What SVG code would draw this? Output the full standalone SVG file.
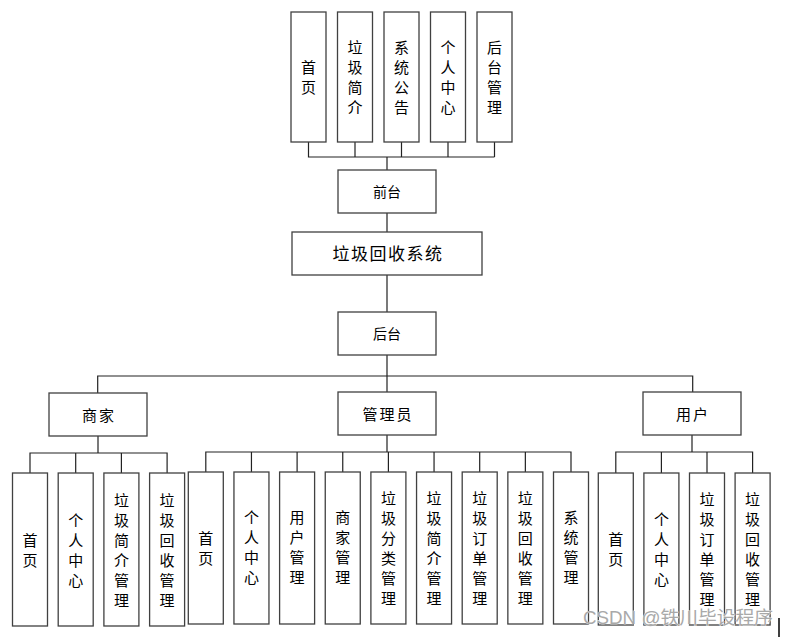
<svg xmlns="http://www.w3.org/2000/svg" width="789" height="637" viewBox="0 0 789 637">
<style>
.box{fill:#fff;stroke:#404040;stroke-width:1.3}
.ln{fill:none;stroke:#222;stroke-width:1.2}
text{font-family:"Liberation Sans","Noto Sans CJK SC",sans-serif;fill:#000;text-anchor:middle;dominant-baseline:central}
.v{font-size:15px}
.h{font-size:15px;letter-spacing:2px}
.s{font-size:14px}
.t{font-size:17px;letter-spacing:1.5px}
.wm{font-size:18px;fill:#a9a9a9;stroke:#fff;stroke-width:0.6;paint-order:stroke;text-anchor:start;dominant-baseline:auto}
</style>
<rect width="789" height="637" fill="#fff"/>
<g id="connectors">
<path class="ln" d="M308.5,142V157H494.5M355,142V157M401.5,142V157M448,142V157M494.5,142V157M387,157V170"/>
<path class="ln" d="M387,213V232M387,275V312M387,355V376"/>
<path class="ln" d="M97.7,393V376H692.7V392M387,376V392"/>
<path class="ln" d="M98,436V453M30,473V453H167.1V473M75.7,453V473M121.4,453V473"/>
<path class="ln" d="M387,435V452M205.8,472V452H571V472M251.45,452V472M297.1,452V472M342.75,452V472M388.4,452V472M434.05,452V472M479.7,452V472M525.35,452V472"/>
<path class="ln" d="M692,435V452M615.8,473V452H752.6V473M661.4,452V473M707,452V473"/>
</g>
<g id="top-home"><rect class="box" x="291" y="12" width="35" height="130"/><text class="v"><tspan x="308.5" y="67">首</tspan><tspan x="308.5" dy="20">页</tspan></text></g>
<g id="top-intro"><rect class="box" x="337.5" y="12" width="35" height="130"/><text class="v"><tspan x="355" y="47">垃</tspan><tspan x="355" dy="20">圾</tspan><tspan x="355" dy="20">简</tspan><tspan x="355" dy="20">介</tspan></text></g>
<g id="top-notice"><rect class="box" x="384" y="12" width="35" height="130"/><text class="v"><tspan x="401.5" y="47">系</tspan><tspan x="401.5" dy="20">统</tspan><tspan x="401.5" dy="20">公</tspan><tspan x="401.5" dy="20">告</tspan></text></g>
<g id="top-personal"><rect class="box" x="430.5" y="12" width="35" height="130"/><text class="v"><tspan x="448" y="47">个</tspan><tspan x="448" dy="20">人</tspan><tspan x="448" dy="20">中</tspan><tspan x="448" dy="20">心</tspan></text></g>
<g id="top-admin"><rect class="box" x="477" y="12" width="35" height="130"/><text class="v"><tspan x="494.5" y="47">后</tspan><tspan x="494.5" dy="20">台</tspan><tspan x="494.5" dy="20">管</tspan><tspan x="494.5" dy="20">理</tspan></text></g>
<g id="frontend"><rect class="box" x="338" y="170" width="98" height="43"/><text class="s" x="387" y="192">前台</text></g>
<g id="system"><rect class="box" x="292" y="232" width="190" height="43"/><text class="t" x="388" y="254">垃圾回收系统</text></g>
<g id="backend"><rect class="box" x="338" y="312" width="98" height="43"/><text class="s" x="387" y="334">后台</text></g>
<g id="merchant"><rect class="box" x="49" y="393" width="98" height="43"/><text class="h" x="99" y="415">商家</text></g>
<g id="manager"><rect class="box" x="338" y="392" width="98" height="43"/><text class="h" x="388" y="414">管理员</text></g>
<g id="user"><rect class="box" x="643" y="392" width="98" height="43"/><text class="h" x="693" y="414">用户</text></g>
<g id="m-home"><rect class="box" x="12.5" y="473" width="35" height="153"/><text class="v"><tspan x="30" y="539.5">首</tspan><tspan x="30" dy="20">页</tspan></text></g>
<g id="m-personal"><rect class="box" x="58.2" y="473" width="35" height="153"/><text class="v"><tspan x="75.7" y="519.5">个</tspan><tspan x="75.7" dy="20">人</tspan><tspan x="75.7" dy="20">中</tspan><tspan x="75.7" dy="20">心</tspan></text></g>
<g id="m-intro"><rect class="box" x="103.9" y="473" width="35" height="153"/><text class="v"><tspan x="121.4" y="499.5">垃</tspan><tspan x="121.4" dy="20">圾</tspan><tspan x="121.4" dy="20">简</tspan><tspan x="121.4" dy="20">介</tspan><tspan x="121.4" dy="20">管</tspan><tspan x="121.4" dy="20">理</tspan></text></g>
<g id="m-recycle"><rect class="box" x="149.6" y="473" width="35" height="153"/><text class="v"><tspan x="167.1" y="499.5">垃</tspan><tspan x="167.1" dy="20">圾</tspan><tspan x="167.1" dy="20">回</tspan><tspan x="167.1" dy="20">收</tspan><tspan x="167.1" dy="20">管</tspan><tspan x="167.1" dy="20">理</tspan></text></g>
<g id="a-home"><rect class="box" x="188.3" y="472" width="35" height="152"/><text class="v"><tspan x="205.8" y="538">首</tspan><tspan x="205.8" dy="20">页</tspan></text></g>
<g id="a-personal"><rect class="box" x="233.95" y="472" width="35" height="152"/><text class="v"><tspan x="251.45" y="517">个</tspan><tspan x="251.45" dy="20">人</tspan><tspan x="251.45" dy="20">中</tspan><tspan x="251.45" dy="20">心</tspan></text></g>
<g id="a-user"><rect class="box" x="279.6" y="472" width="35" height="152"/><text class="v"><tspan x="297.1" y="517">用</tspan><tspan x="297.1" dy="20">户</tspan><tspan x="297.1" dy="20">管</tspan><tspan x="297.1" dy="20">理</tspan></text></g>
<g id="a-merchant"><rect class="box" x="325.25" y="472" width="35" height="152"/><text class="v"><tspan x="342.75" y="517">商</tspan><tspan x="342.75" dy="20">家</tspan><tspan x="342.75" dy="20">管</tspan><tspan x="342.75" dy="20">理</tspan></text></g>
<g id="a-category"><rect class="box" x="370.9" y="472" width="35" height="152"/><text class="v"><tspan x="388.4" y="498">垃</tspan><tspan x="388.4" dy="20">圾</tspan><tspan x="388.4" dy="20">分</tspan><tspan x="388.4" dy="20">类</tspan><tspan x="388.4" dy="20">管</tspan><tspan x="388.4" dy="20">理</tspan></text></g>
<g id="a-intro"><rect class="box" x="416.55" y="472" width="35" height="152"/><text class="v"><tspan x="434.05" y="498">垃</tspan><tspan x="434.05" dy="20">圾</tspan><tspan x="434.05" dy="20">简</tspan><tspan x="434.05" dy="20">介</tspan><tspan x="434.05" dy="20">管</tspan><tspan x="434.05" dy="20">理</tspan></text></g>
<g id="a-order"><rect class="box" x="462.2" y="472" width="35" height="152"/><text class="v"><tspan x="479.7" y="498">垃</tspan><tspan x="479.7" dy="20">圾</tspan><tspan x="479.7" dy="20">订</tspan><tspan x="479.7" dy="20">单</tspan><tspan x="479.7" dy="20">管</tspan><tspan x="479.7" dy="20">理</tspan></text></g>
<g id="a-recycle"><rect class="box" x="507.85" y="472" width="35" height="152"/><text class="v"><tspan x="525.35" y="498">垃</tspan><tspan x="525.35" dy="20">圾</tspan><tspan x="525.35" dy="20">回</tspan><tspan x="525.35" dy="20">收</tspan><tspan x="525.35" dy="20">管</tspan><tspan x="525.35" dy="20">理</tspan></text></g>
<g id="a-system"><rect class="box" x="553.5" y="472" width="35" height="152"/><text class="v"><tspan x="571" y="517">系</tspan><tspan x="571" dy="20">统</tspan><tspan x="571" dy="20">管</tspan><tspan x="571" dy="20">理</tspan></text></g>
<g id="u-home"><rect class="box" x="598.3" y="473" width="35" height="152"/><text class="v"><tspan x="615.8" y="539">首</tspan><tspan x="615.8" dy="20">页</tspan></text></g>
<g id="u-personal"><rect class="box" x="643.9" y="473" width="35" height="152"/><text class="v"><tspan x="661.4" y="519">个</tspan><tspan x="661.4" dy="20">人</tspan><tspan x="661.4" dy="20">中</tspan><tspan x="661.4" dy="20">心</tspan></text></g>
<g id="u-order"><rect class="box" x="689.5" y="473" width="35" height="152"/><text class="v"><tspan x="707" y="499">垃</tspan><tspan x="707" dy="20">圾</tspan><tspan x="707" dy="20">订</tspan><tspan x="707" dy="20">单</tspan><tspan x="707" dy="20">管</tspan><tspan x="707" dy="20">理</tspan></text></g>
<g id="u-recycle"><rect class="box" x="735.1" y="473" width="35" height="152"/><text class="v"><tspan x="752.6" y="499">垃</tspan><tspan x="752.6" dy="20">圾</tspan><tspan x="752.6" dy="20">回</tspan><tspan x="752.6" dy="20">收</tspan><tspan x="752.6" dy="20">管</tspan><tspan x="752.6" dy="20">理</tspan></text></g>
<line x1="779" y1="618" x2="779" y2="637" stroke="#000" stroke-width="1.5"/>
<text class="wm" x="583" y="624" textLength="190" lengthAdjust="spacingAndGlyphs">CSDN @铁川毕设程序</text>
</svg>
